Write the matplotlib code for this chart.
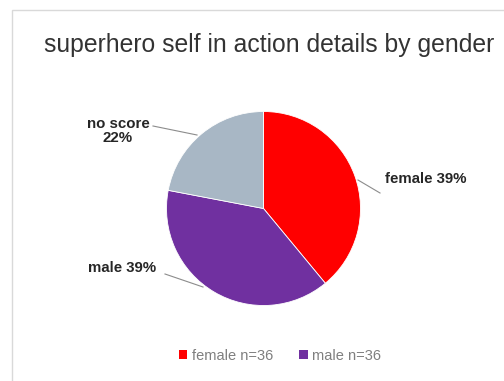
import matplotlib
matplotlib.use("Agg")
import matplotlib.pyplot as plt
from matplotlib.patches import Rectangle, Patch

plt.rcParams['font.family'] = ['Liberation Sans', 'DejaVu Sans']

categories = ["female", "male", "no score"]
shares = [39, 39, 22]
colors = ["#FF0000", "#7030A0", "#A8B7C5"]
legend_labels = ["female n=36", "male n=36"]

W, H = 504, 381
fig = plt.figure(figsize=(W / 100, H / 100), dpi=100)
fig.patch.set_facecolor("white")

# chart frame
fig.add_artist(Rectangle((12 / W, -0.1), 1.2, 1 - 10 / H + 0.1, transform=fig.transFigure,
                         fill=False, edgecolor="#D9D9D9", linewidth=1.0))

fig.text(269 / W, 1 - 45 / H, "superhero self in action details by gender",
         ha="center", va="center", fontsize=17.8, color="#333333")

cx, cy, r = 263.5, 208.5, 97
ax = fig.add_axes([(cx - r) / W, 1 - (cy + r) / H, 2 * r / W, 2 * r / H])
wedges, _ = ax.pie(shares, colors=colors, startangle=90, counterclock=False,
                   wedgeprops=dict(linewidth=0.6, edgecolor="white"))
ax.set_aspect("equal")
ax.set_xlim(-1, 1)
ax.set_ylim(-1, 1)
ax.axis("off")

def px(x, y):
    return (x / W, 1 - y / H)

label_cfg = [
    # text, text position, text alignment, leader line points
    (f"{categories[0]} {shares[0]}%", (385, 179), "left", [(358, 180), (380, 193)]),
    (f"{categories[1]} {shares[1]}%", (122, 268), "center", [(165, 274), (203, 287)]),
    (f"{categories[2]}\n{shares[2]}%", (118, 131), "center", [(153, 126), (197, 135)]),
]
for text, (tx, ty), ha, pts in label_cfg:
    fig.text(*px(tx, ty), text, ha=ha, va="center", fontsize=10.8, fontweight="bold",
             color="#262626", linespacing=0.95)
    xs = [p[0] / W for p in pts]
    ys = [1 - p[1] / H for p in pts]
    fig.add_artist(plt.Line2D(xs, ys, transform=fig.transFigure, color="#8C8C8C", linewidth=0.8))

handles = [Patch(facecolor=colors[i], edgecolor="none") for i in range(2)]
fig.legend(handles, legend_labels, loc="center", bbox_to_anchor=(280 / W, 1 - 356 / H),
           ncol=2, frameon=False, fontsize=10.5, handlelength=0.6, handleheight=0.6,
           handletextpad=0.3, columnspacing=1.8, labelcolor="#7F7F7F")

fig.savefig("out.png", dpi=100)
